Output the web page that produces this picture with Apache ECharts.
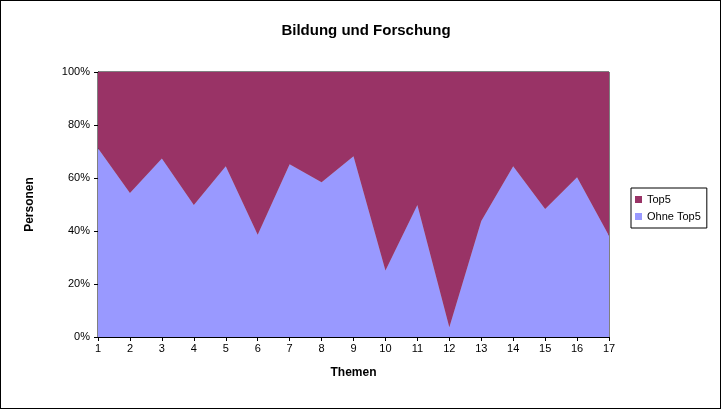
<!DOCTYPE html>
<html><head><meta charset="utf-8">
<script src="https://cdn.jsdelivr.net/npm/echarts@6/dist/echarts.min.js"></script>
<style>html,body{margin:0;padding:0;background:#fff}#c{width:721px;height:409px;box-sizing:border-box;border:1px solid #000}</style>
</head><body><div id="c"></div>
<script>
var categories=['1','2','3','4','5','6','7','8','9','10','11','12','13','14','15','16','17'];
var ohneTop5=[71.2,54.3,67.4,49.8,64.4,38.6,65.2,58.4,68.2,25.1,49.8,3.7,43.8,64.4,48.3,60.3,38.2];
var top5=ohneTop5.map(function(v){return +(100-v).toFixed(1);});
var chart=echarts.init(document.getElementById('c'));
var f='Arial, Liberation Sans, sans-serif';
chart.setOption({
  animation:false,
  title:{text:'Bildung und Forschung',left:360,top:17,textAlign:'center',textStyle:{fontFamily:f,fontSize:15,fontWeight:'bold',color:'#000'}},
  grid:{left:97,right:111,top:71,bottom:71,show:true,borderColor:'#000',borderWidth:1,backgroundColor:'#c0c0c0'},
  legend:{orient:'vertical',left:630,top:187,itemWidth:7,itemHeight:7,itemGap:6,padding:[6,6,6,4],borderColor:'#000',borderWidth:1,
    data:['Top5','Ohne Top5'],textStyle:{fontFamily:f,fontSize:11,color:'#000'},icon:'rect'},
  xAxis:{type:'category',data:categories,boundaryGap:false,name:'Themen',nameLocation:'middle',nameGap:30,
    nameTextStyle:{fontFamily:f,fontSize:12,fontWeight:'bold',color:'#000'},
    axisLine:{lineStyle:{color:'#000'}},axisTick:{inside:false,length:4,lineStyle:{color:'#000'}},
    axisLabel:{fontFamily:f,fontSize:11,color:'#000',margin:6}},
  yAxis:{type:'value',min:0,max:100,interval:20,name:'Personen',nameLocation:'middle',nameGap:62,
    nameTextStyle:{fontFamily:f,fontSize:12,fontWeight:'bold',color:'#000'},
    axisLine:{show:true,lineStyle:{color:'#000'}},axisTick:{show:true,length:4,lineStyle:{color:'#000'}},splitLine:{show:false},
    axisLabel:{fontFamily:f,fontSize:11,color:'#000',formatter:'{value}%'}},
  series:[
    {name:'Ohne Top5',type:'line',stack:'a',data:ohneTop5,symbol:'none',lineStyle:{width:0},areaStyle:{color:'#9999ff',opacity:1},itemStyle:{color:'#9999ff'}},
    {name:'Top5',type:'line',stack:'a',data:top5,symbol:'none',lineStyle:{width:0},areaStyle:{color:'#993366',opacity:1},itemStyle:{color:'#993366'}}
  ]
});
</script></body></html>
